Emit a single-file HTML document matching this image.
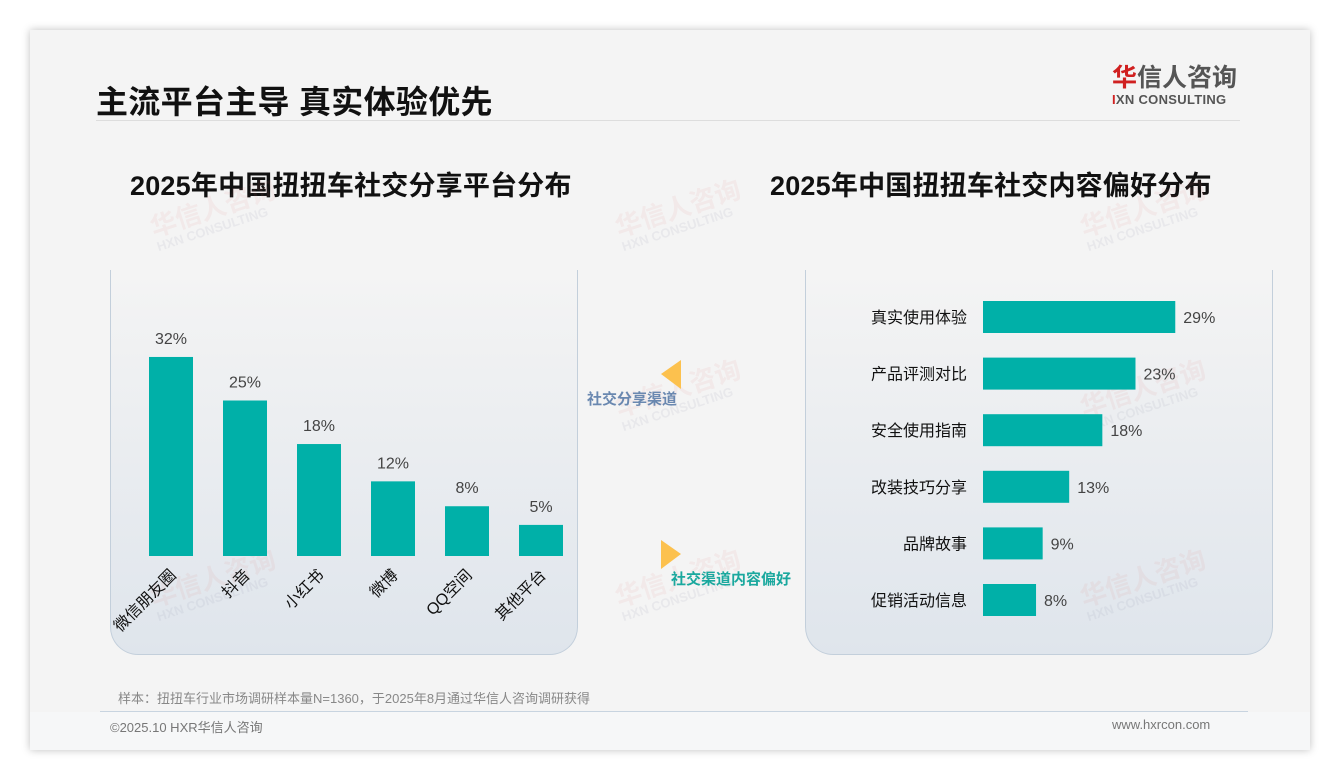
<!DOCTYPE html>
<html><head><meta charset="utf-8">
<style>
body{margin:0;width:1340px;height:780px;background:#fff;font-family:"Liberation Sans","Noto Sans CJK SC",sans-serif;position:relative;overflow:hidden}
.slide{position:absolute;left:30px;top:30px;width:1280px;height:720px;background:#f4f4f4;box-shadow:0 0 8px rgba(0,0,0,.25)}
.abs{position:absolute}
.panel{position:absolute;top:270px;width:468px;height:385px;border:1px solid #c3cfdb;border-top:none;border-radius:0 0 28px 28px;background:linear-gradient(#f4f4f4,#dfe5ec);box-sizing:border-box}
.wm{position:absolute;color:rgba(220,120,120,.09);font-size:26px;font-weight:bold;transform:rotate(-18deg);white-space:nowrap;line-height:1}
.wm span{display:block;font-size:13px;color:rgba(150,150,170,.12)}
</style></head><body>
<div class="slide"></div>
<div class="abs" style="left:96px;top:77px;font-size:32px;font-weight:bold;color:#111;letter-spacing:.3px">主流平台主导 真实体验优先</div>
<div class="abs" style="left:96px;top:120px;width:1144px;height:1px;background:#ddd"></div>
<div class="abs" style="left:1112px;top:64px;width:130px;text-align:left">
<div style="font-size:25px;color:#555;line-height:28px;font-weight:bold"><span style="color:#d02020">华</span>信人咨询</div>
<div style="font-size:13px;color:#555;font-weight:bold;letter-spacing:.3px"><span style="color:#d02020">I</span>XN CONSULTING</div></div>
<div class="abs" style="left:130px;top:164px;font-size:27px;font-weight:bold;color:#111;letter-spacing:.2px">2025年中国扭扭车社交分享平台分布</div>
<div class="abs" style="left:770px;top:164px;font-size:27px;font-weight:bold;color:#111;letter-spacing:.2px">2025年中国扭扭车社交内容偏好分布</div>
<div class="panel" style="left:110px"></div>
<div class="panel" style="left:805px"></div>
<div class="wm" style="left:150px;top:195px">华信人咨询<span>HXN CONSULTING</span></div>
<div class="wm" style="left:615px;top:195px">华信人咨询<span>HXN CONSULTING</span></div>
<div class="wm" style="left:1080px;top:195px">华信人咨询<span>HXN CONSULTING</span></div>
<div class="wm" style="left:615px;top:375px">华信人咨询<span>HXN CONSULTING</span></div>
<div class="wm" style="left:1080px;top:375px">华信人咨询<span>HXN CONSULTING</span></div>
<div class="wm" style="left:615px;top:565px">华信人咨询<span>HXN CONSULTING</span></div>
<div class="wm" style="left:1080px;top:565px">华信人咨询<span>HXN CONSULTING</span></div>
<div class="wm" style="left:150px;top:565px">华信人咨询<span>HXN CONSULTING</span></div>
<svg class="abs" style="left:0;top:0" width="1340" height="780" id="chart">
<polygon points="681,360 681,389 661,374" fill="#fcc14e"/>
<polygon points="661,540 661,569 681,554" fill="#fcc14e"/>
<text x="587" y="404" font-size="15" font-weight="bold" fill="#6a88b0">社交分享渠道</text>
<text x="671" y="584" font-size="15" font-weight="bold" fill="#1aa89e">社交渠道内容偏好</text>
</svg>
<div class="abs" style="left:118px;top:688px;font-size:13px;color:#888">样本：扭扭车行业市场调研样本量N=1360，于2025年8月通过华信人咨询调研获得</div>
<div class="abs" style="left:100px;top:711px;width:1148px;height:1px;background:#c8d4e0"></div>
<div class="abs" style="left:30px;top:712px;width:1280px;height:38px;background:#f6f7f8"></div>
<div class="abs" style="left:110px;top:717px;font-size:13px;color:#777">©2025.10 HXR华信人咨询</div>
<div class="abs" style="left:1112px;top:717px;font-size:13px;color:#777">www.hxrcon.com</div>
<script>
const platforms=["微信朋友圈","抖音","小红书","微博","QQ空间","其他平台"];
const platformShare=[32,25,18,12,8,5];
const contentTypes=["真实使用体验","产品评测对比","安全使用指南","改装技巧分享","品牌故事","促销活动信息"];
const contentShare=[29,23,18,13,9,8];
const NS="http://www.w3.org/2000/svg";
const svg=document.getElementById('chart');
function mk(t,a){const e=document.createElementNS(NS,t);for(const k in a)e.setAttribute(k,a[k]);svg.appendChild(e);return e;}
const vBase=556,vScale=6.22,vX=i=>171+i*74;
platforms.forEach((p,i)=>{
 const h=platformShare[i]*vScale,cx=vX(i);
 const r=mk('rect',{x:cx-22,y:vBase-h,width:44,height:h,fill:'#00b0a8'});
 
 
 const v=mk('text',{x:cx,y:vBase-h-13,'text-anchor':'middle','font-size':16,fill:'#444'});v.textContent=platformShare[i]+'%';
 
 
 const l=mk('text',{x:cx+6,y:vBase+20,'text-anchor':'end','font-size':16,fill:'#111',transform:`rotate(-45 ${cx+6} ${vBase+20})`});l.textContent=p;
 
 
});
const hX0=983,hScale=6.63,hY=i=>317+i*56.6;
contentTypes.forEach((c,i)=>{
 const w=contentShare[i]*hScale,cy=hY(i);
 const r=mk('rect',{x:hX0,y:cy-16,width:w,height:32,fill:'#00b0a8'});
 
 
 const v=mk('text',{x:hX0+w+8,y:cy+6,'font-size':16,fill:'#444'});v.textContent=contentShare[i]+'%';
 
 
 const l=mk('text',{x:967,y:cy+6,'text-anchor':'end','font-size':16,fill:'#111'});l.textContent=c;
 
 
});
</script>
</body></html>
